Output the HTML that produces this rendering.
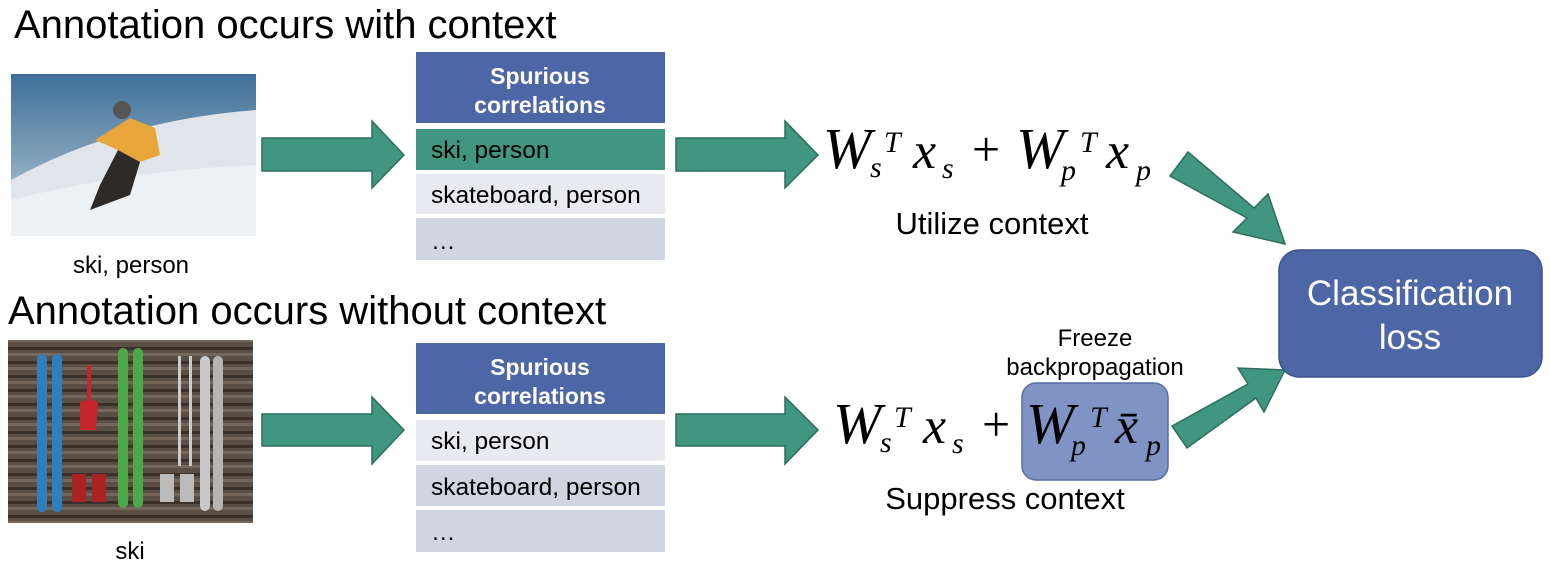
<!DOCTYPE html>
<html><head><meta charset="utf-8"><style>
body{margin:0;background:#fff;}
svg{display:block;font-family:"Liberation Sans",sans-serif;}
.m{font-family:"Liberation Serif",serif;font-style:italic;}
</style></head><body>
<svg width="1550" height="572" viewBox="0 0 1550 572" xmlns="http://www.w3.org/2000/svg">
<defs>
<linearGradient id="sky" x1="0" y1="0" x2="0" y2="1">
<stop offset="0" stop-color="#3f6f9a"/><stop offset="0.5" stop-color="#7d9fb8"/><stop offset="1" stop-color="#c9d2da"/></linearGradient>
<pattern id="wood" width="245" height="14" patternUnits="userSpaceOnUse">
<rect width="245" height="14" fill="#5b4e44"/><rect y="11" width="245" height="3" fill="#3a312b"/><rect y="3" width="245" height="3" fill="#75675b"/></pattern>
</defs>
<text x="14" y="38" font-size="40">Annotation occurs with context</text>
<text x="8" y="324" font-size="40">Annotation occurs without context</text>

<rect x="11" y="74" width="245" height="162" fill="url(#sky)"/>
<path d="M11 180 Q120 120 256 110 L256 236 L11 236Z" fill="#dfe5ea"/>
<path d="M11 200 Q130 170 256 165 L256 236 L11 236Z" fill="#eef1f3"/>
<path d="M95 140 L130 118 L155 128 L160 155 L140 162 L118 150Z" fill="#e8a53a"/>
<path d="M118 150 L140 162 L130 195 L90 210 L100 185Z" fill="#2e2a28"/>
<circle cx="122" cy="110" r="9" fill="#555"/>
<text x="131" y="273" font-size="24" text-anchor="middle">ski, person</text>

<rect x="8" y="340" width="245" height="183" fill="url(#wood)"/>
<rect x="37" y="354" width="10" height="158" rx="5" fill="#2f7fc0"/><rect x="52" y="354" width="10" height="158" rx="5" fill="#2f7fc0"/>
<path d="M87 365 L91 365 L91 400 L98 402 L96 430 L80 430 L80 402 L87 400Z" fill="#c4262a"/>
<rect x="118" y="348" width="10" height="160" rx="5" fill="#4caa46"/><rect x="133" y="348" width="10" height="160" rx="5" fill="#4caa46"/>
<rect x="178" y="356" width="3" height="110" fill="#ccc"/><rect x="189" y="356" width="3" height="110" fill="#ccc"/>
<rect x="200" y="356" width="10" height="155" rx="5" fill="#c9c9c9"/><rect x="213" y="356" width="10" height="155" rx="5" fill="#b5b5b5"/>
<rect x="72" y="474" width="14" height="28" fill="#a22"/><rect x="92" y="474" width="14" height="28" fill="#a22"/>
<rect x="160" y="474" width="14" height="28" fill="#bbb"/><rect x="180" y="474" width="14" height="28" fill="#bbb"/>
<text x="130" y="559" font-size="24" text-anchor="middle">ski</text>

<g fill="#419680" stroke="#2e6e5d" stroke-width="1.5">
<path d="M262 138 H372 V121 L404 155 L372 188 V171 H262Z"/>
<path d="M676 138 H785 V121 L818 155 L785 188 V171 H676Z"/>
<path d="M262 414 H372 V397 L404 430 L372 464 V446 H262Z"/>
<path d="M676 414 H785 V397 L818 430 L785 464 V446 H676Z"/>
<path d="M1188 152 L1254 208 L1268 194 L1285 244 L1233 232 L1247 218 L1170 176Z"/>
<path d="M1172 426 L1248 384 L1238 368 L1285 370 L1264 412 L1256 398 L1187 448Z"/>
</g>

<g font-size="24.5">
<rect x="416" y="52" width="249" height="71" fill="#4c66a6"/>
<text x="540" y="84" fill="#fff" font-weight="bold" text-anchor="middle" font-size="23">Spurious</text>
<text x="540" y="113" fill="#fff" font-weight="bold" text-anchor="middle" font-size="23">correlations</text>
<rect x="416" y="129" width="249" height="41" fill="#419680"/>
<text x="431" y="158">ski, person</text>
<rect x="416" y="174" width="249" height="40" fill="#e9eaf0"/>
<text x="431" y="203">skateboard, person</text>
<rect x="416" y="218" width="249" height="42" fill="#d0d5e1"/>
<text x="431" y="249">…</text>

<rect x="416" y="343" width="249" height="71" fill="#4c66a6"/>
<text x="540" y="375" fill="#fff" font-weight="bold" text-anchor="middle" font-size="23">Spurious</text>
<text x="540" y="404" fill="#fff" font-weight="bold" text-anchor="middle" font-size="23">correlations</text>
<rect x="416" y="420" width="249" height="41" fill="#e9eaf0"/>
<text x="431" y="449">ski, person</text>
<rect x="416" y="465" width="249" height="41" fill="#d0d5e1"/>
<text x="431" y="495">skateboard, person</text>
<rect x="416" y="510" width="249" height="42" fill="#d0d5e1"/>
<text x="431" y="540">…</text>
</g>

<g class="m">
<text x="823" y="168" font-size="58">W</text>
<text x="870" y="177" font-size="30">s</text><text x="884" y="152" font-size="30">T</text>
<text x="913" y="168" font-size="52">x</text><text x="942" y="178" font-size="30">s</text>
<text x="972" y="166" font-size="50" font-style="normal">+</text>
<text x="1016" y="168" font-size="58">W</text>
<text x="1061" y="180" font-size="30">p</text><text x="1080" y="152" font-size="30">T</text>
<text x="1106" y="168" font-size="52">x</text><text x="1136" y="180" font-size="30">p</text>
</g>
<text x="992" y="234" font-size="31" text-anchor="middle">Utilize context</text>

<rect x="1022" y="383" width="146" height="97" rx="14" fill="#7f93c4" stroke="#5a6da3" stroke-width="1.5"/>
<g class="m">
<text x="833" y="443" font-size="58">W</text>
<text x="880" y="452" font-size="30">s</text><text x="894" y="427" font-size="30">T</text>
<text x="923" y="443" font-size="52">x</text><text x="952" y="453" font-size="30">s</text>
<text x="982" y="441" font-size="50" font-style="normal">+</text>
<text x="1026" y="443" font-size="58">W</text>
<text x="1071" y="455" font-size="30">p</text><text x="1090" y="427" font-size="30">T</text>
<text x="1115" y="443" font-size="52">x̄</text><text x="1146" y="455" font-size="30">p</text>
</g>
<text x="1095" y="346" font-size="24" text-anchor="middle">Freeze</text>
<text x="1095" y="375" font-size="24" text-anchor="middle">backpropagation</text>
<text x="1005" y="509" font-size="31" text-anchor="middle">Suppress context</text>

<rect x="1279" y="250" width="263" height="127" rx="20" fill="#4c66a6" stroke="#3b5290" stroke-width="1.5"/>
<text x="1410" y="305" font-size="35" fill="#fff" text-anchor="middle">Classification</text>
<text x="1410" y="349" font-size="35" fill="#fff" text-anchor="middle">loss</text>
</svg>
</body></html>
